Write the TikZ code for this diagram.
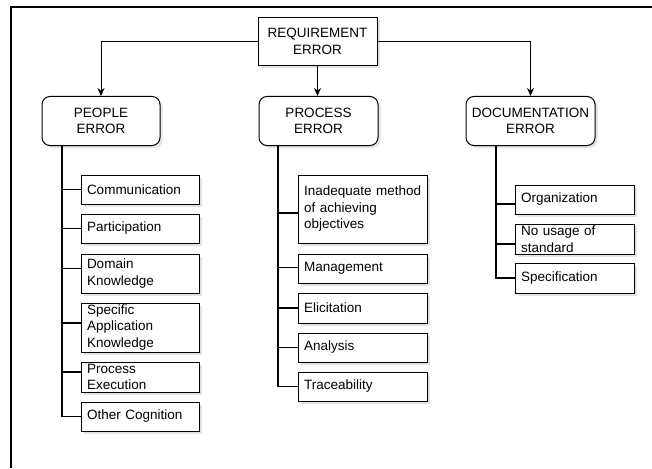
\documentclass[tikz,border=0pt]{standalone}
\usepackage{fontspec}
\setmainfont{Liberation Sans}
\usetikzlibrary{arrows.meta,shadows}
\begin{document}
\begin{tikzpicture}[x=1pt,y=-1pt,
  font=\fontsize{13.5}{16.5}\selectfont,
  shbox/.style={draw, line width=1pt, fill=white,
    drop shadow={shadow xshift=2.5pt,shadow yshift=-2.5pt,fill=black!22}},
  topbox/.style={shbox, minimum width=119pt, minimum height=48pt, align=center, inner sep=0pt},
  catbox/.style={shbox, rounded corners=8pt, minimum height=49pt, align=center, inner sep=0pt},
  leaf/.style={shbox, inner sep=0pt, minimum width=#1},
  lbl/.style={align=left, text width=#1, inner sep=0pt},
  arr/.style={line width=0.9pt, -{Stealth[length=8pt,width=7pt]}},
  trunk/.style={line width=1.6pt},
  frame/.style={line width=1.3pt}
]
\useasboundingbox (0,0) rectangle (652,468);
\draw[frame] (11,468) -- (11,7) -- (652,7);

% top
\node[topbox] (req) at (317.5,41.5) {REQUIREMENT\\ERROR};
\node[catbox, minimum width=118pt] (ppl) at (101,121) {PEOPLE\\ERROR};
\node[catbox, minimum width=119pt] (proc) at (318.5,121) {PROCESS\\ERROR};
\node[catbox, minimum width=129pt] (doc) at (530.5,121) {DOCUMENTATION\\ERROR};

\draw[arr] (req.west) -| (ppl.north);
\draw[arr] (req.south) -- (req.south |- proc.north);
\draw[arr] (req.east) -| (doc.north);

% people leaves
\node[leaf=118pt, minimum height=29pt, label={[lbl=106pt]center:{Communication}}] (p1) at (140,189.5) {};
\node[leaf=118pt, minimum height=29pt, label={[lbl=106pt]center:{Participation}}] (p2) at (140,228.5) {};
\node[leaf=118pt, minimum height=39pt, label={[lbl=106pt]center:{Domain\\Knowledge}}] (p3) at (140,273.5) {};
\node[leaf=118pt, minimum height=49pt, label={[lbl=106pt]center:{Specific\\Application\\Knowledge}}] (p4) at (140,327.5) {};
\node[leaf=118pt, minimum height=30pt, label={[lbl=106pt]center:{Process\\Execution}}] (p5) at (140,377) {};
\node[leaf=118pt, minimum height=29pt, label={[lbl=106pt]center:{Other Cognition}}] (p6) at (140,416.5) {};

% process leaves
\node[leaf=129pt, minimum height=68pt, label={[lbl=117pt]center:{\mbox{Inadequate method}\\of achieving\\objectives}}] (r1) at (362.5,209) {};
\node[leaf=129pt, minimum height=29pt, label={[lbl=117pt]center:{Management}}] (r2) at (362.5,268.5) {};
\node[leaf=129pt, minimum height=30pt, label={[lbl=117pt]center:{Elicitation}}] (r3) at (362.5,308) {};
\node[leaf=129pt, minimum height=29pt, label={[lbl=117pt]center:{Analysis}}] (r4) at (362.5,347.5) {};
\node[leaf=129pt, minimum height=29pt, label={[lbl=117pt]center:{Traceability}}] (r5) at (362.5,386.5) {};

% documentation leaves
\node[leaf=119pt, minimum height=29pt, label={[lbl=107pt]center:{Organization}}] (d1) at (574.5,199.5) {};
\node[leaf=119pt, minimum height=30pt, label={[lbl=107pt]center:{No usage of\\standard}}] (d2) at (574.5,239) {};
\node[leaf=119pt, minimum height=30pt, label={[lbl=107pt]center:{Specification}}] (d3) at (574.5,278) {};

\coordinate (ptx) at (62,0);
\coordinate (rtx) at (278,0);
\coordinate (dtx) at (496,0);

% people connectors
\draw[trunk] (ppl.south -| ptx) |- (p6.west);
\foreach \n/\s in {p1/0pt,p2/0pt,p3/5pt,p4/4.5pt,p5/5pt}
  \draw[trunk] ([yshift=\s]\n.west -| ptx) -- ([yshift=\s]\n.west);

% process connectors
\draw[trunk] (proc.south -| rtx) |- (r5.west);
\foreach \n/\s in {r1/-4pt,r2/1pt,r3/0pt,r4/0pt}
  \draw[trunk] ([yshift=\s]\n.west -| rtx) -- ([yshift=\s]\n.west);

% documentation connectors
\draw[trunk] (doc.south -| dtx) |- (d3.west);
\foreach \n/\s in {d1/-4.5pt,d2/-5pt}
  \draw[trunk] ([yshift=\s]\n.west -| dtx) -- ([yshift=\s]\n.west);
\end{tikzpicture}
\end{document}
